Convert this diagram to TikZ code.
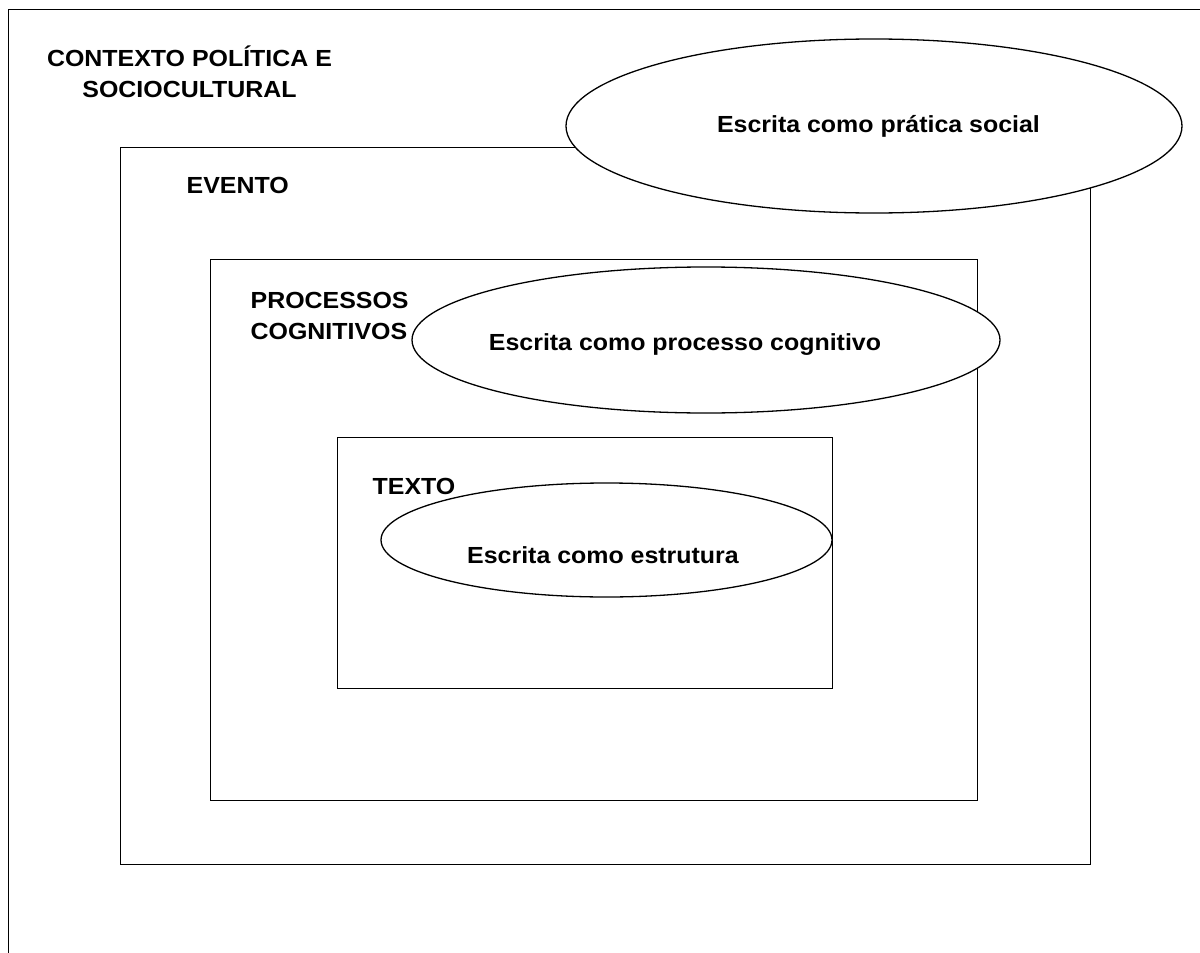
\documentclass[tikz,border=0pt]{standalone}
\usepackage{fontspec}
\setmainfont{Liberation Sans}[FakeStretch=1.07]
\usetikzlibrary{positioning,shapes.geometric}
\tikzstyle{frame}=[draw,rectangle,anchor=north west,inner sep=0pt]
\tikzstyle{oval}=[draw,ellipse,fill=white,inner sep=0pt]
\tikzstyle{tag}=[inner sep=0pt,font=\fontsize{23.3}{31}\selectfont\bfseries]
\newcommand{\newFrame}[5]{\node[frame,minimum width=#4,minimum height=#5](#1) at (#2,#3) {};}
\newcommand{\newOval}[5]{\node[oval,minimum width=#4,minimum height=#5](#1) at (#2,#3) {};}
\newcommand{\newTag}[4]{\node[tag,#4](#1) at (#2) {#3};}
\begin{document}
\begin{tikzpicture}[x=1pt,y=-1pt,
      line width=1.3pt
      ]
      \useasboundingbox (0,0) rectangle (1200,953);
      \clip (0,0) rectangle (1200,953);
      % levels
      \newFrame{contexto}{8}{9}{1240}{1000}
      \newFrame{evento}{120}{147}{970}{717}
      \newFrame{processos}{210}{259}{767}{541}
      \newFrame{texto}{337}{437}{495}{251}
      % views of writing
      \newOval{social}{874}{126}{616}{174}
      \newOval{cognitivo}{706}{340}{588}{146}
      \newOval{estrutura}{606.5}{540}{451}{114}
      % labels
      \newTag{contextoTag}{189.5,97}{CONTEXTO POLÍTICA E\\SOCIOCULTURAL}{align=center,anchor=base}
      \newTag{eventoTag}{186,193}{EVENTO}{anchor=base west}
      \newTag{processosTag}{250,339}{PROCESSOS\\COGNITIVOS}{align=left,anchor=base west}
      \newTag{textoTag}{372,494}{TEXTO}{anchor=base west}
      \newTag{socialTag}{878.5,132}{Escrita como prática social}{anchor=base}
      \newTag{cognitivoTag}{685,350}{Escrita como processo cognitivo}{anchor=base}
      \newTag{estruturaTag}{603,563}{Escrita como estrutura}{anchor=base}
    \end{tikzpicture}
\end{document}
